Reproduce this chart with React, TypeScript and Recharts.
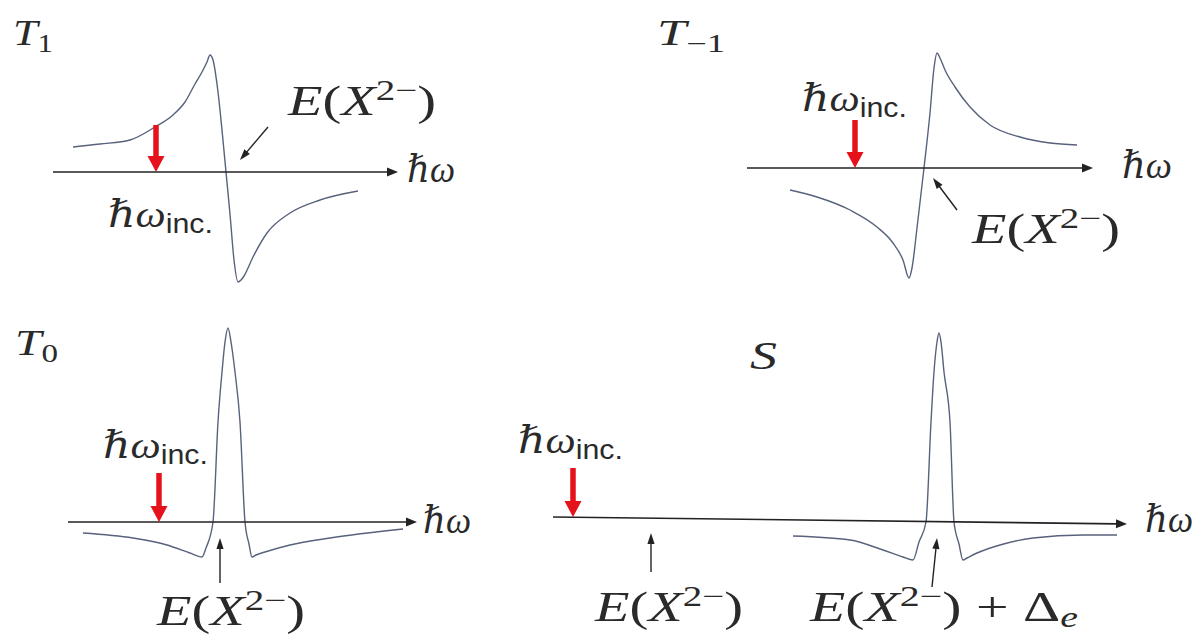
import { LineChart, Line, XAxis, YAxis, ReferenceLine } from 'recharts';

// Energies are measured from the X2- resonance, signal from the zero line.
const t1Energy = [-153, -126, -96, -71, -53, -41, -31, -24, -19, -16, -13, -8, -4, 0, 4, 8, 12, 15, 18, 27, 41, 64, 94, 132];
const t1Signal = [25, 28, 32, 45, 57, 70, 88, 100, 110, 117, 112, 80, 42, 0, -42, -88, -110, -108, -104, -85, -61, -41, -28, -19];

const tm1Energy = [-134, -107, -74, -47, -31, -21, -15, -12, -7, 0, 6, 10, 13, 16, 21, 31, 46, 66, 96, 126, 153];
const tm1Signal = [-22, -29, -42, -59, -75, -92, -110, -100, -60, 0, 55, 100, 115, 110, 98, 81, 61, 43, 31, 25, 23];

const t0Energy = [-145, -95, -61, -38, -26, -22, -15, -10, -6, -3, 0, 3, 7, 12, 17, 21, 24, 28, 37, 62, 102, 175];
const t0Signal = [-11, -16, -23, -31, -35, -26, 0, 100, 150, 180, 194, 180, 150, 100, 0, -22, -35, -33, -30, -23, -16, -7];

// singlet: resonance sits at E(X2-) + Δe
const sEnergy = [142, 199, 232, 252, 262, 268, 275, 280, 283, 286, 288, 290, 293, 299, 303, 308, 312, 316, 326, 349, 382, 432, 466];
const sSignal = [-14, -18, -28, -35, -38, -20, 0, 100, 150, 180, 189, 180, 150, 100, 0, -22, -38, -36, -31, -23, -16, -13, -13];

// ħω axis ends [e0, s0, e1, s1]
const t1Axis = [-173, 0, 172, 0];
const tm1Axis = [-177, 0, 169, 0];
const t0Axis = [-160, 0, 189, 0];
const sAxis = [-98, 5, 476, -2];

// incident photon energy marker [energy, top, tip]
const t1Inc = [-70, 47, 0];
const tm1Inc = [-69, 48, 0];
const t0Inc = [-69, 49, 0];
const sInc = [-78, 54, 5];

// pointers to the resonance labels [e0, s0, e1, s1]
const t1Ptr = [[42, 45, 14, 12]];
const tm1Ptr = [[33, -42, 9, -10]];
const t0Ptr = [[-8, -61, -8, -16]];
const sPtr = [[0, -50, 0, -11], [281, -65, 286, -16]];

const serif = '"Liberation Serif", "DejaVu Serif", serif';
const sans = '"Liberation Sans", "DejaVu Sans", sans-serif';
const ink = '#2a2a2a';

type Seg = { x1?: number | string; y1?: number | string; x2?: number | string; y2?: number | string };

const arrow = (color: string, width: number, head: number, half: number) => (p: Seg) => {
  const x1 = Number(p.x1), y1 = Number(p.y1), x2 = Number(p.x2), y2 = Number(p.y2);
  const len = Math.hypot(x2 - x1, y2 - y1) || 1;
  const ux = (x2 - x1) / len, uy = (y2 - y1) / len;
  const bx = x2 - ux * head, by = y2 - uy * head;
  return (
    <g>
      <line x1={x1} y1={y1} x2={bx + ux} y2={by + uy} stroke={color} strokeWidth={width} />
      <polygon
        points={`${x2},${y2} ${bx - uy * half},${by + ux * half} ${bx + uy * half},${by - ux * half}`}
        fill={color}
      />
    </g>
  );
};

type PanelProps = {
  left: number;
  top: number;
  width: number;
  height: number;
  xDomain: [number, number];
  yDomain: [number, number];
  energy: number[];
  signal: number[];
  axis: number[];
  inc: number[];
  ptrs: number[][];
};

function Panel({ left, top, width, height, xDomain, yDomain, energy, signal, axis, inc, ptrs }: PanelProps) {
  const data = energy.map((e, i) => ({ e, s: signal[i] }));
  return (
    <div style={{ position: 'absolute', left, top }}>
      <LineChart width={width} height={height} data={data} margin={{ top: 0, right: 0, bottom: 0, left: 0 }}>
        <XAxis dataKey="e" type="number" domain={xDomain} allowDataOverflow hide />
        <YAxis type="number" domain={yDomain} allowDataOverflow hide />
        <Line
          dataKey="s"
          type="monotone"
          stroke="#58627c"
          strokeWidth={1.4}
          dot={false}
          activeDot={false}
          isAnimationActive={false}
        />
        <ReferenceLine
          ifOverflow="visible"
          segment={[{ x: axis[0], y: axis[1] }, { x: axis[2], y: axis[3] }]}
          shape={arrow('#222', 1.6, 11, 4.5)}
        />
        {ptrs.map((p, i) => (
          <ReferenceLine
            key={i}
            ifOverflow="visible"
            segment={[{ x: p[0], y: p[1] }, { x: p[2], y: p[3] }]}
            shape={arrow('#222', 1.4, 11, 3.6)}
          />
        ))}
        <ReferenceLine
          ifOverflow="visible"
          segment={[{ x: inc[0], y: inc[1] }, { x: inc[0], y: inc[2] }]}
          shape={arrow('#e5121b', 5.5, 16, 8.5)}
        />
      </LineChart>
    </div>
  );
}

const fit = { lengthAdjust: 'spacingAndGlyphs' as const };

function Hw({ x, y, w = 48 }: { x: number; y: number; w?: number }) {
  return (
    <text x={x} y={y} fontFamily={serif} fontStyle="italic" fontSize={38} fill={ink} textLength={w} {...fit}>
      ℏω
    </text>
  );
}

function HwInc({ x, y }: { x: number; y: number }) {
  return (
    <text x={x} y={y} fontFamily={serif} fontSize={38} fill={ink} textLength={105} {...fit}>
      <tspan fontStyle="italic">ℏω</tspan>
      <tspan fontFamily={sans} fontSize={27} dy={6}>inc.</tspan>
    </text>
  );
}

function EX({ x, y, w = 148, delta = false }: { x: number; y: number; w?: number; delta?: boolean }) {
  return (
    <text x={x} y={y} fontFamily={serif} fontSize={42} fill={ink} textLength={w} {...fit}>
      <tspan fontStyle="italic">E</tspan>
      <tspan>(</tspan>
      <tspan fontStyle="italic">X</tspan>
      <tspan fontSize={29} dy={-15}>2−</tspan>
      <tspan dy={15}>)</tspan>
      {delta && <tspan> + Δ</tspan>}
      {delta && <tspan fontStyle="italic" fontSize={29} dy={6}>e</tspan>}
    </text>
  );
}

function Title({ x, y, sub, w }: { x: number; y: number; sub: string; w: number }) {
  return (
    <text x={x} y={y} fontFamily={serif} fontSize={36} fill={ink} textLength={w} {...fit}>
      <tspan fontStyle="italic">T</tspan>
      <tspan fontSize={25} dy={7}>{sub}</tspan>
    </text>
  );
}

export default function App() {
  return (
    <div style={{ position: 'absolute', left: 0, top: 0, width: 1198, height: 635, background: '#fff', overflow: 'hidden' }}>
      <Panel left={0} top={0} width={460} height={300} xDomain={[-226, 234]} yDomain={[-128, 172]}
        energy={t1Energy} signal={t1Signal} axis={t1Axis} inc={t1Inc} ptrs={t1Ptr} />
      <Panel left={600} top={0} width={598} height={300} xDomain={[-324, 274]} yDomain={[-132, 168]}
        energy={tm1Energy} signal={tm1Signal} axis={tm1Axis} inc={tm1Inc} ptrs={tm1Ptr} />
      <Panel left={0} top={310} width={480} height={325} xDomain={[-228, 252]} yDomain={[-113, 212]}
        energy={t0Energy} signal={t0Signal} axis={t0Axis} inc={t0Inc} ptrs={t0Ptr} />
      <Panel left={500} top={310} width={698} height={325} xDomain={[-151, 547]} yDomain={[-113, 212]}
        energy={sEnergy} signal={sSignal} axis={sAxis} inc={sInc} ptrs={sPtr} />

      <svg width={1198} height={635} style={{ position: 'absolute', left: 0, top: 0, pointerEvents: 'none' }}>
        {/* triplet T1 */}
        <Title x={13} y={45} sub="1" w={40} />
        <EX x={288} y={115} />
        <Hw x={407} y={182} />
        <HwInc x={108} y={227} />

        {/* triplet T-1 */}
        <Title x={657} y={45} sub="−1" w={68} />
        <HwInc x={802} y={111} />
        <Hw x={1122} y={178} w={50} />
        <EX x={972} y={243} />

        {/* triplet T0 */}
        <Title x={15} y={355} sub="0" w={43} />
        <HwInc x={103} y={458} />
        <Hw x={423} y={533} />
        <EX x={157} y={625} />

        {/* singlet S */}
        <text x={750} y={369} fontFamily={serif} fontStyle="italic" fontSize={40} fill={ink} textLength={27} {...fit}>S</text>
        <HwInc x={518} y={453} />
        <Hw x={1145} y={532} />
        <EX x={595} y={621} />
        <EX x={810} y={621} w={268} delta />
      </svg>
    </div>
  );
}
